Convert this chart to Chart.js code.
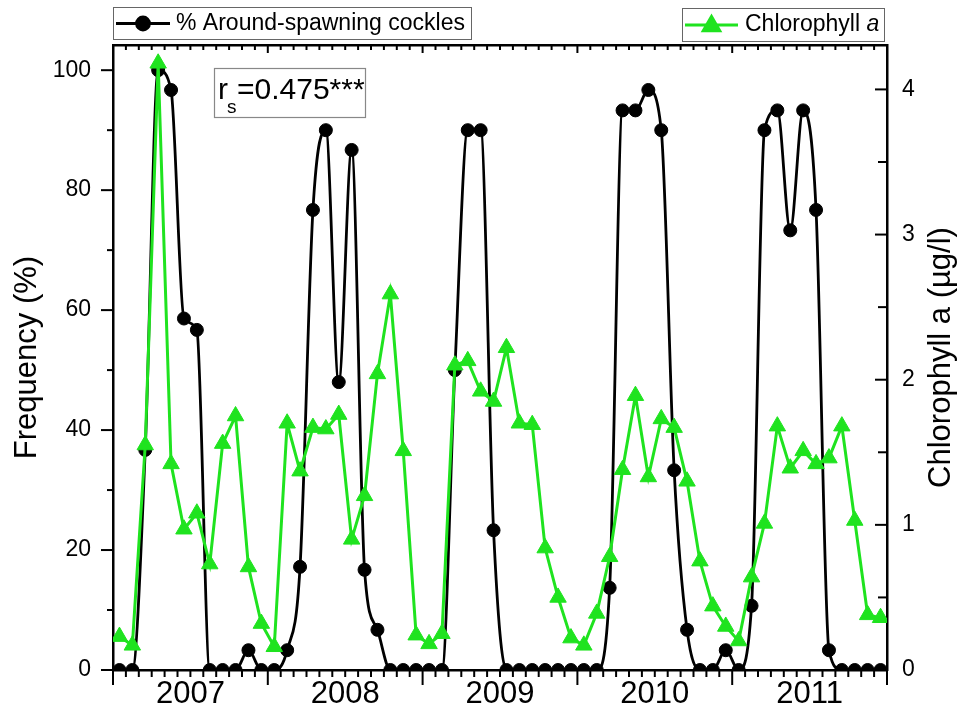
<!DOCTYPE html>
<html>
<head>
<meta charset="utf-8">
<script src="https://cdn.jsdelivr.net/npm/chart.js@4.4.1/dist/chart.umd.min.js"></script>
<style>
html, body { margin: 0; padding: 0; background: #fff; }
#wrap { width: 960px; height: 713px; }
</style>
</head>
<body>
<div id="wrap"><canvas id="chart"></canvas></div>
<script>
// monthly samples, Jan 2007 .. Dec 2011
const years = ['2007', '2008', '2009', '2010', '2011'];

// % around-spawning cockles (left axis)
const cockles = [
  0, 0, 36.7, 100, 96.7, 58.6, 56.7, 0, 0, 0, 3.3, 0,
  0, 3.3, 17.2, 76.7, 90, 48, 86.7, 16.7, 6.7, 0, 0, 0,
  0, 0, 50, 90, 90, 23.3, 0, 0, 0, 0, 0, 0,
  0, 0, 13.7, 93.3, 93.3, 96.7, 90, 33.3, 6.7, 0, 0, 3.3,
  0, 10.7, 90, 93.3, 73.3, 93.3, 76.7, 3.3, 0, 0, 0, 0
];

// chlorophyll a, µg/l (right axis)
const chla = [
  0.23, 0.17, 1.55, 4.18, 1.42, 0.97, 1.08, 0.73, 1.56, 1.75, 0.71, 0.32,
  0.16, 1.70, 1.37, 1.67, 1.66, 1.76, 0.90, 1.20, 2.04, 2.59, 1.51, 0.24,
  0.18, 0.25, 2.10, 2.13, 1.92, 1.85, 2.22, 1.70, 1.69, 0.84, 0.50, 0.22,
  0.17, 0.39, 0.78, 1.38, 1.89, 1.33, 1.73, 1.67, 1.30, 0.75, 0.44, 0.30,
  0.20, 0.64, 1.01, 1.68, 1.39, 1.51, 1.42, 1.46, 1.68, 1.03, 0.38, 0.36
];

const freqStep = 20;
const chlaStep = 1;

const GREEN = '#1fe31f';
const FONT = "'Liberation Sans', Arial, sans-serif";

Chart.defaults.font.family = FONT;
Chart.defaults.color = '#000';

// points sit in the middle of each month
const toPoints = arr => arr.map((v, i) => ({ x: i + 0.5, y: v }));

function seg(ctx, x1, y1, x2, y2) {
  ctx.beginPath();
  ctx.moveTo(x1, y1);
  ctx.lineTo(x2, y2);
  ctx.stroke();
}

const decor = {
  id: 'decor',
  afterDraw(chart) {
    const { ctx, chartArea: a, scales } = chart;
    ctx.save();
    ctx.strokeStyle = '#000';
    ctx.lineWidth = 2;
    // month ticks, bottom (outward) and top (inward)
    for (let m = 0; m <= years.length * 12; m++) {
      const x = scales.x.getPixelForValue(m);
      const major = m % 12 === 0;
      seg(ctx, x, a.bottom, x, a.bottom + (major ? 15 : 7));
      seg(ctx, x, a.top, x, a.top + (major ? 8 : 5));
    }
    // left ticks outward
    for (let v = 0; v <= 100; v += freqStep / 2) {
      const y = scales.y.getPixelForValue(v);
      seg(ctx, a.left - (v % freqStep === 0 ? 12 : 6), y, a.left, y);
    }
    // right ticks inward
    for (let v = 0; v <= 4; v += chlaStep / 2) {
      const y = scales.y2.getPixelForValue(v);
      seg(ctx, a.right - (v % chlaStep === 0 ? 12 : 9), y, a.right, y);
    }

    // right axis title, reading upwards
    ctx.save();
    ctx.translate(941, (a.top + a.bottom) / 2);
    ctx.rotate(-Math.PI / 2);
    ctx.fillStyle = '#000';
    ctx.font = '31px ' + FONT;
    ctx.textAlign = 'center';
    ctx.textBaseline = 'middle';
    ctx.fillText('Chlorophyll a (µg/l)', 0, 0);
    ctx.restore();

    // legend 1
    const ds0 = chart.data.datasets[1];
    ctx.lineWidth = 1;
    ctx.strokeStyle = '#666';
    ctx.strokeRect(113.5, 7.5, 358, 32);
    ctx.strokeStyle = '#000';
    ctx.lineWidth = 2.8;
    seg(ctx, 116, 23.5, 170, 23.5);
    ctx.fillStyle = '#000';
    Chart.helpers.drawPoint(ctx, { pointStyle: 'circle', radius: 6.5, borderWidth: 1 }, 143, 23.5);
    ctx.font = '23px ' + FONT;
    ctx.textAlign = 'left';
    ctx.textBaseline = 'middle';
    ctx.fillText(ds0.label, 176, 24);

    // legend 2
    ctx.lineWidth = 1;
    ctx.strokeStyle = '#666';
    ctx.strokeRect(682.5, 8.5, 202, 33);
    ctx.strokeStyle = GREEN;
    ctx.fillStyle = GREEN;
    ctx.lineWidth = 3;
    seg(ctx, 685, 25, 738, 25);
    Chart.helpers.drawPoint(ctx, { pointStyle: 'triangle', radius: 9.5, borderWidth: 1 }, 711.5, 26);
    ctx.fillStyle = '#000';
    ctx.font = '23px ' + FONT;
    const t = 'Chlorophyll ';
    ctx.fillText(t, 745, 25);
    const w = ctx.measureText(t).width;
    ctx.font = 'italic 23px ' + FONT;
    ctx.fillText('a', 745 + w, 25);

    // correlation box
    ctx.lineWidth = 1.2;
    ctx.strokeStyle = '#888';
    ctx.strokeRect(214.5, 68.5, 151, 49);
    ctx.textBaseline = 'alphabetic';
    ctx.font = '30px ' + FONT;
    ctx.fillText('r', 218, 99);
    ctx.font = '19px ' + FONT;
    ctx.fillText('s', 227, 113);
    ctx.font = '30px ' + FONT;
    ctx.fillText('=0.475***', 237, 99);

    ctx.restore();
  }
};

new Chart(document.getElementById('chart'), {
  type: 'line',
  data: {
    datasets: [{
      label: 'Chlorophyll a',
      data: toPoints(chla),
      yAxisID: 'y2',
      borderColor: GREEN,
      backgroundColor: GREEN,
      borderWidth: 3,
      pointStyle: 'triangle',
      pointRadius: 9.5,
      pointBorderWidth: 1,
      tension: 0
    }, {
      label: '% Around-spawning cockles',
      data: toPoints(cockles),
      yAxisID: 'y',
      borderColor: '#000',
      backgroundColor: '#000',
      borderWidth: 2.8,
      pointStyle: 'circle',
      pointRadius: 6.5,
      pointBorderWidth: 1,
      cubicInterpolationMode: 'monotone',
      clip: { left: 20, top: 20, right: 20, bottom: 0 }
    }]
  },
  options: {
    responsive: true,
    maintainAspectRatio: false,
    animation: false,
    layout: { padding: 0 },
    plugins: { legend: { display: false }, tooltip: { enabled: false } },
    scales: {
      x: {
        type: 'linear',
        position: 'bottom',
        min: 0,
        max: years.length * 12,
        afterFit: s => { s.height = 43; },
        grid: { drawOnChartArea: false, drawTicks: false },
        border: { color: '#000', width: 2.5 },
        ticks: {
          stepSize: 1,
          autoSkip: false,
          maxRotation: 0,
          padding: 6,
          font: { size: 31 },
          callback: v => (v % 12 === 6 ? years[(v - 6) / 12] : '')
        }
      },
      x2: {
        type: 'linear',
        position: 'top',
        min: 0,
        max: years.length * 12,
        afterFit: s => { s.height = 45; },
        grid: { drawOnChartArea: false, drawTicks: false },
        border: { color: '#000', width: 2.5 },
        ticks: { display: false }
      },
      y: {
        position: 'left',
        min: 0,
        max: 104.2,
        afterFit: s => { s.width = 113; },
        grid: { drawOnChartArea: false, drawTicks: false },
        border: { color: '#000', width: 2.5 },
        title: { display: true, text: 'Frequency (%)', font: { size: 31 }, padding: { top: 9 } },
        ticks: { stepSize: freqStep, includeBounds: false, padding: 22, font: { size: 23 } }
      },
      y2: {
        position: 'right',
        min: 0,
        max: 4.306,
        afterFit: s => { s.width = 73; },
        grid: { drawOnChartArea: false, drawTicks: false },
        border: { color: '#000', width: 2.5 },
        ticks: { stepSize: chlaStep, includeBounds: false, padding: 15, font: { size: 23 } }
      }
    }
  },
  plugins: [decor]
});
</script>
</body>
</html>
